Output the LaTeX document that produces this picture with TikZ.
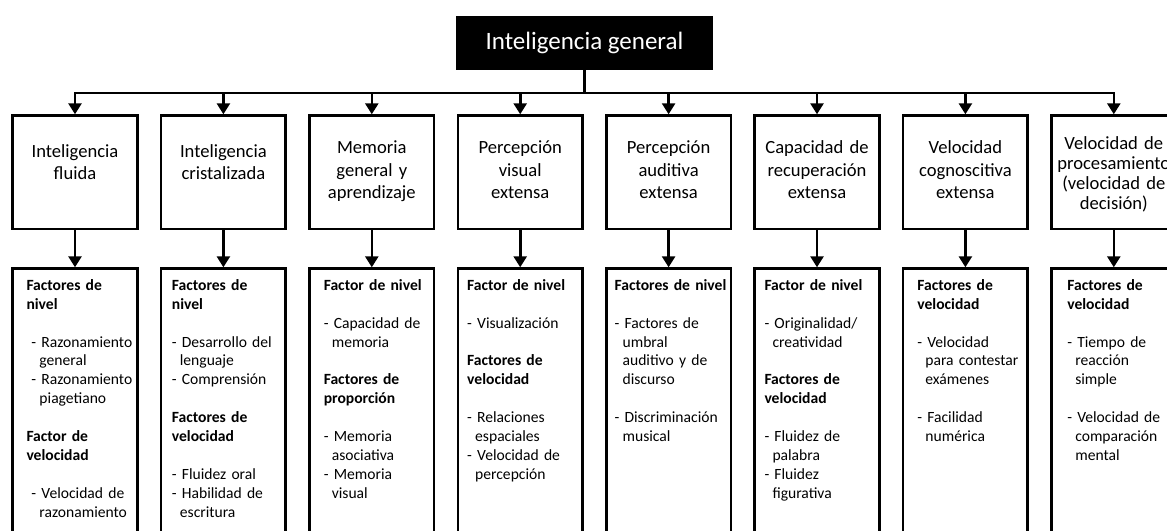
\documentclass[tikz,border=0pt]{standalone}
\usepackage{fontspec}
\setmainfont{Carlito}
\usetikzlibrary{arrows.meta,positioning}

\hyphenpenalty=10000
\exhyphenpenalty=10000
\newcommand{\sangria}{\hspace*{8pt}}

\tikzset{
  linea/.style={line width=2.6pt},
  flecha/.style={line width=2.6pt,-{Triangle[width=13pt,length=11pt]}},
  general/.style={fill=black,text=white,minimum width=257pt,minimum height=54pt,
    inner sep=0pt,font=\fontsize{25}{30}\selectfont},
  area/.style={draw,line width=2.6pt,anchor=north,minimum width=124.5pt,
    minimum height=113.5pt,inner sep=0pt,text width=121pt,align=center,
    text height=14pt,text depth=#1,font=\fontsize{18.6}{22.5}\selectfont},
  area/.default=51pt,
  factores/.style={draw,line width=2.6pt,anchor=north,minimum width=124.5pt,
    minimum height=290pt,inner sep=0pt,text width=#1,align=left,
    text height=12pt,text depth=258.6pt,font=\fontsize{15.6}{18.9}\selectfont}
}

\begin{document}
\begin{tikzpicture}[x=1pt,y=-1pt]
\path[use as bounding box,fill=white] (0,0) rectangle (1167,530);
\clip (0,0) rectangle (1167,530);

\node (g) [general] at (584.5,43) {Inteligencia general};
\coordinate (bus) at (0,93);

\node (a1) [area=44pt] at (75,114.3) {Inteligencia\\fluida};
\node (a2) [area=44pt] at (223.4,114.3) {Inteligencia\\cristalizada};
\node (a3) [area] at (371.8,114.3) {Memoria\\general y\\aprendizaje};
\node (a4) [area] at (520.2,114.3) {Percepción\\visual\\extensa};
\node (a5) [area] at (668.6,114.3) {Percepción\\auditiva\\extensa};
\node (a6) [area] at (817,114.3) {Capacidad de\\recuperación\\extensa};
\node (a7) [area] at (965.4,114.3) {Velocidad\\cognoscitiva\\extensa};
\node (a8) [area=60pt,font=\fontsize{18.6}{20}\selectfont] at (1113.8,114.3)
  {Velocidad de\\procesamiento\\(velocidad de\\decisión)};

\node (f1) [factores=97pt] at (75,267.3) {\textbf{Factores de}\\\textbf{nivel}\\[18.9pt]
  \hspace*{5pt}-~Razonamiento\\\hspace*{5pt}\sangria general\\\hspace*{5pt}-~Razonamiento\\\hspace*{5pt}\sangria piagetiano\\[18.9pt]
  \textbf{Factor de}\\\textbf{velocidad}\\[18.9pt]
  \hspace*{5pt}-~Velocidad~de\\\hspace*{5pt}\sangria razonamiento};
\node (f2) [factores=103pt] at (223.4,267.3) {\textbf{Factores de}\\\textbf{nivel}\\[18.9pt]
  -~Desarrollo~del\\\sangria lenguaje\\-~Comprensión\\[18.9pt]
  \textbf{Factores de}\\\textbf{velocidad}\\[18.9pt]
  -~Fluidez~oral\\-~Habilidad~de\\\sangria escritura};
\node (f3) [factores=96pt] at (371.8,267.3) {\textbf{Factor~de~nivel}\\[18.9pt]
  -~Capacidad~de\\\sangria memoria\\[18.9pt]
  \textbf{Factores de}\\\textbf{proporción}\\[18.9pt]
  -~Memoria\\\sangria asociativa\\-~Memoria\\\sangria visual};
\node (f4) [factores=106pt] at (520.2,267.3) {\textbf{Factor~de~nivel}\\[18.9pt]
  -~Visualización\\[18.9pt]
  \textbf{Factores de}\\\textbf{velocidad}\\[18.9pt]
  -~Relaciones\\\sangria espaciales\\-~Velocidad~de\\\sangria percepción};
\node (f5) [factores=108pt] at (668.6,267.3) {\textbf{Factores~de~nivel}\\[18.9pt]
  -~Factores~de\\\sangria umbral\\\sangria auditivo~y~de\\\sangria discurso\\[18.9pt]
  -~Discriminación\\\sangria musical};
\node (f6) [factores=105pt] at (817,267.3) {\textbf{Factor~de~nivel}\\[18.9pt]
  -~Originalidad/\\\sangria creatividad\\[18.9pt]
  \textbf{Factores de}\\\textbf{velocidad}\\[18.9pt]
  -~Fluidez~de\\\sangria palabra\\-~Fluidez\\\sangria figurativa};
\node (f7) [factores=96pt] at (965.4,267.3) {\textbf{Factores de}\\\textbf{velocidad}\\[18.9pt]
  -~Velocidad\\\sangria para~contestar\\\sangria exámenes\\[18.9pt]
  -~Facilidad\\\sangria numérica};
\node (f8) [factores=93pt] at (1113.8,267.3) {\textbf{Factores de}\\\textbf{velocidad}\\[18.9pt]
  -~Tiempo~de\\\sangria reacción\\\sangria simple\\[18.9pt]
  -~Velocidad~de\\\sangria comparación\\\sangria mental};

\draw[linea] (g) -- (g |- bus);
\draw[linea,line cap=rect] (a1.north |- bus) -- (a8.north |- bus);
\foreach \i in {1,...,8} {
  \draw[flecha] (a\i.north |- bus) -- (a\i.north);
  \draw[flecha] (a\i) -- (f\i);
}
\end{tikzpicture}
\end{document}
